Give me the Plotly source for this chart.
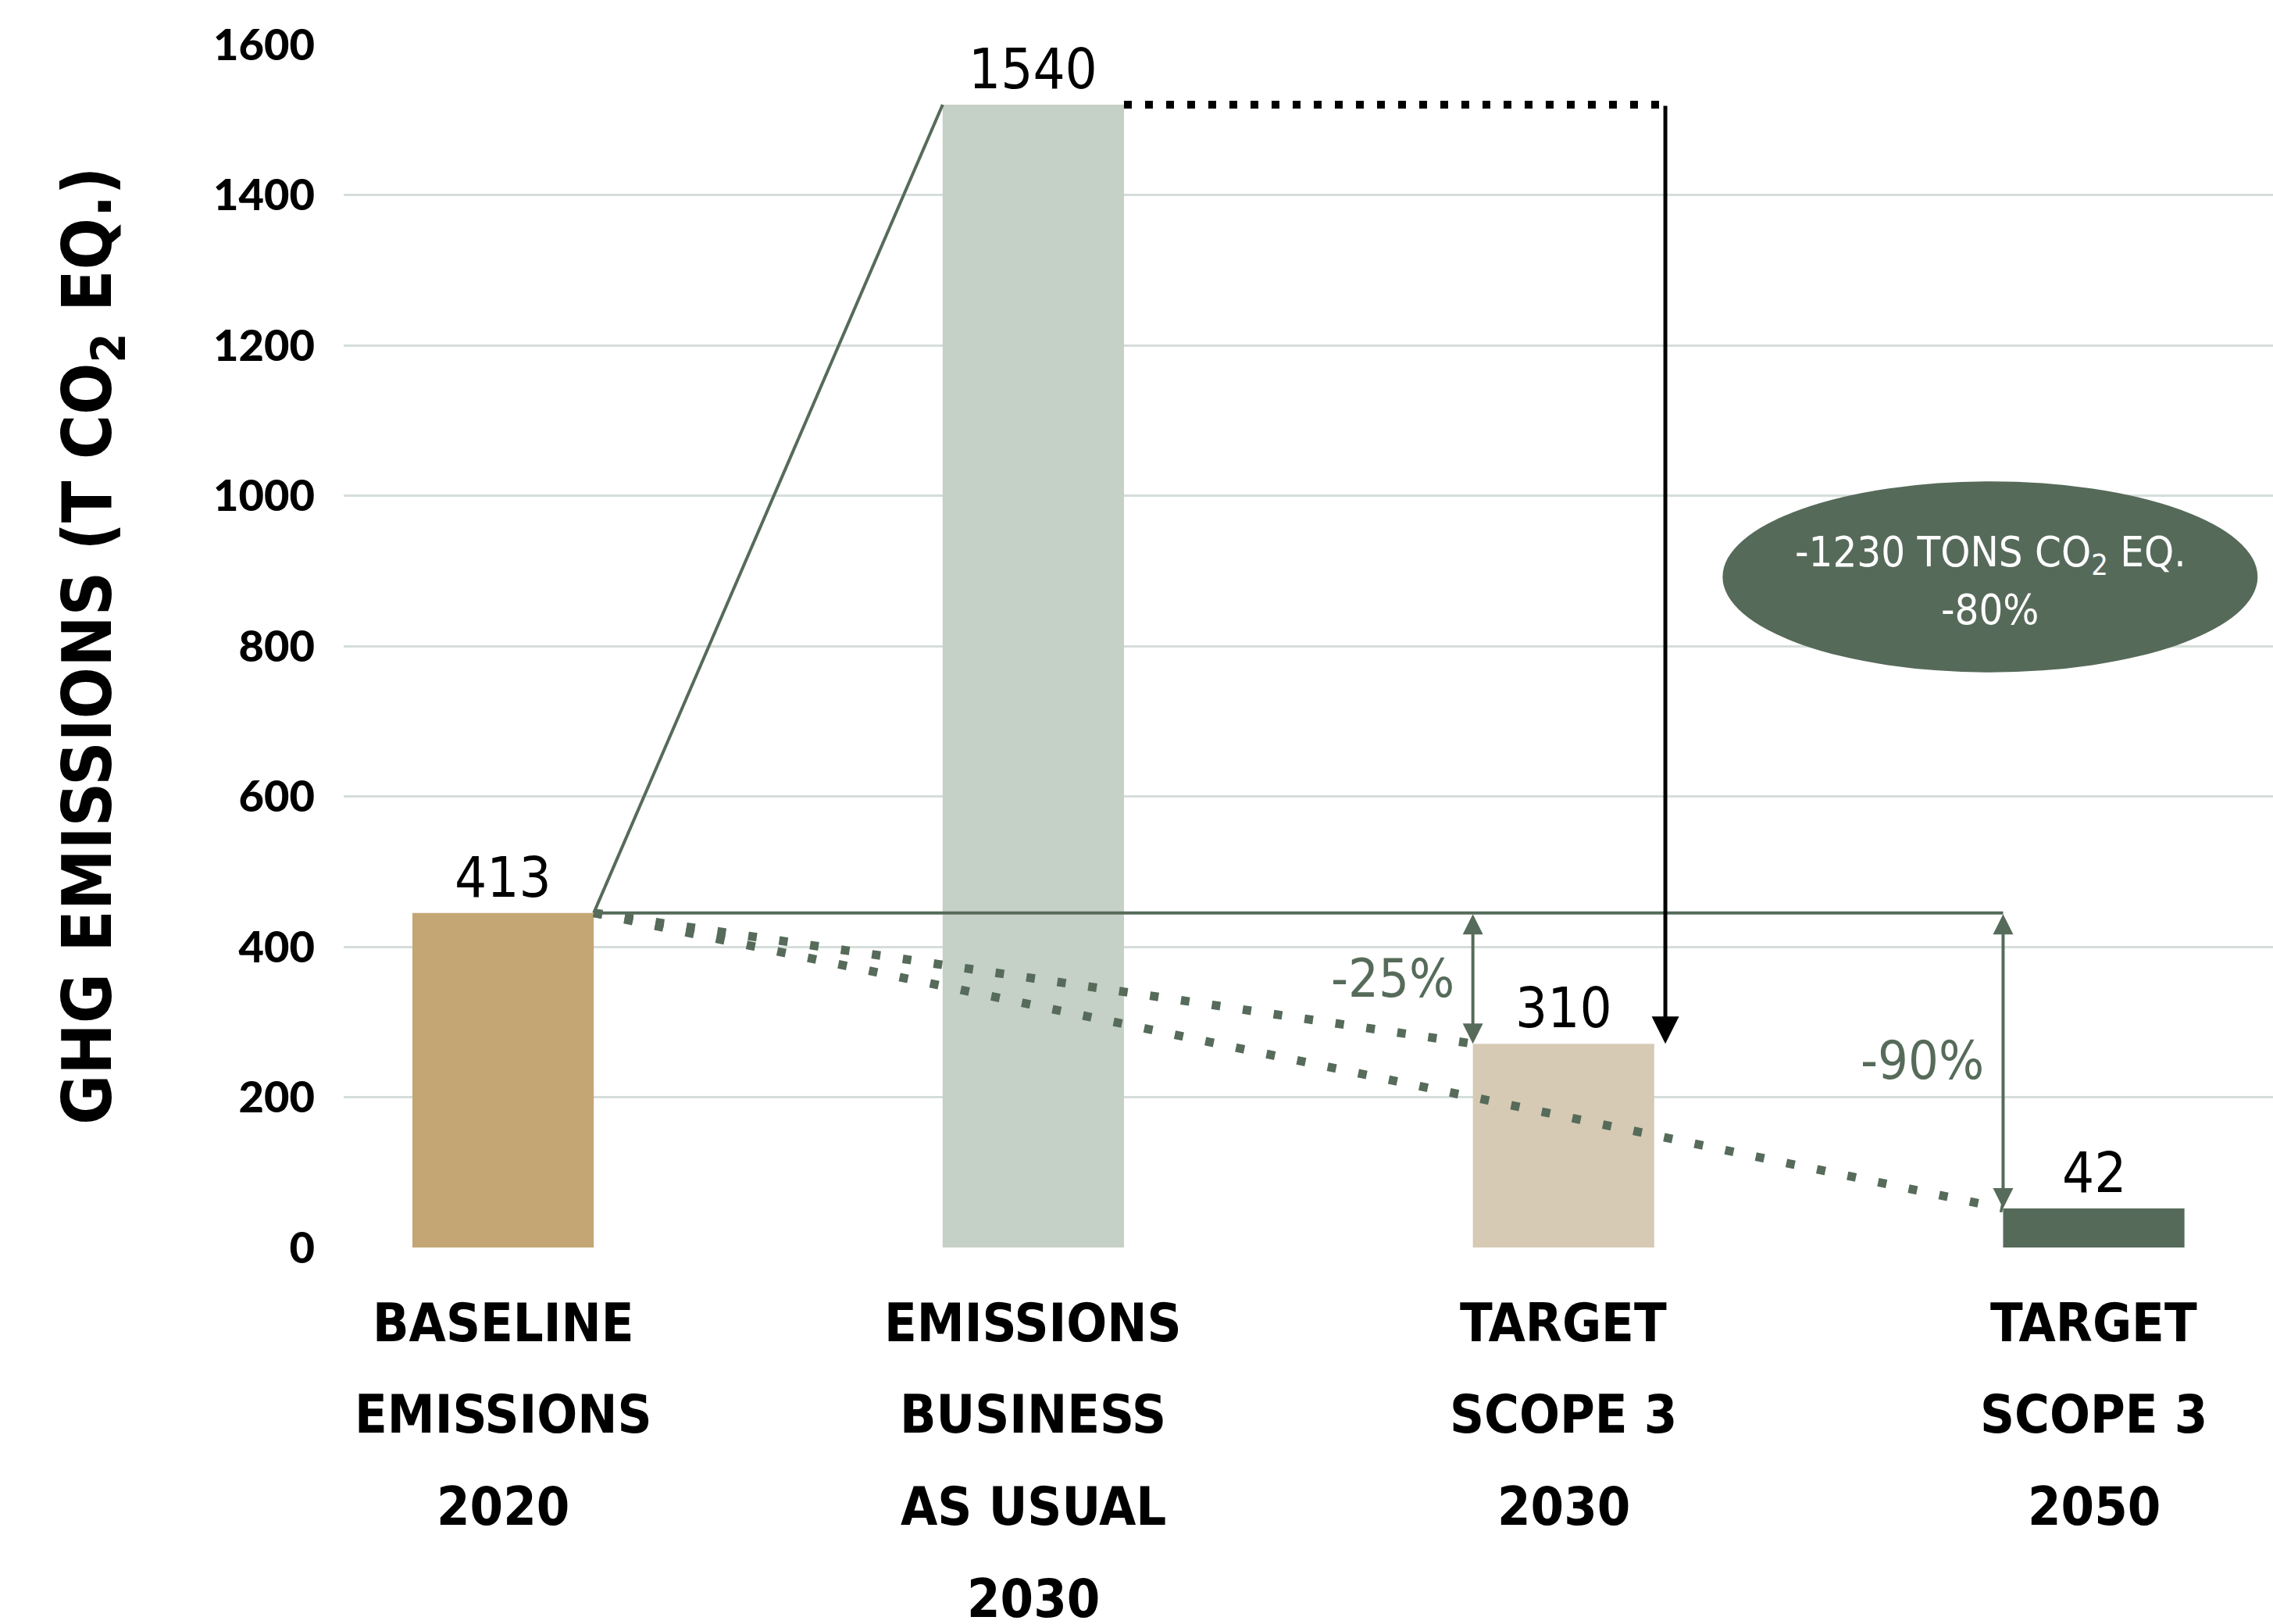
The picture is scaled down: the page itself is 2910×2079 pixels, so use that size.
import plotly.graph_objects as go

# ---------------- data ----------------
categories = ["BASELINE EMISSIONS 2020", "EMISSIONS BUSINESS AS USUAL 2030",
              "TARGET SCOPE 3 2030", "TARGET SCOPE 3 2050"]
category_lines = [["BASELINE", "EMISSIONS", "2020"],
                  ["EMISSIONS", "BUSINESS", "AS USUAL", "2030"],
                  ["TARGET", "SCOPE 3", "2030"],
                  ["TARGET", "SCOPE 3", "2050"]]
value_labels = [413, 1540, 310, 42]          # printed values
bar_heights = [445, 1520, 271, 52]            # drawn bar heights
bar_colors = ["#C4A674", "#C5D0C7", "#D6CAB4", "#566A5A"]
y_ticks = [0, 200, 400, 600, 800, 1000, 1200, 1400, 1600]
pct_labels = ["-25%", "-90%"]
bubble_lines = ["-1230 TONS CO<sub>2</sub> EQ.", "-80%"]
y_title = "GHG EMISSIONS (T CO<sub>2</sub> EQ.)"

# ---------------- style ----------------
W, H = 2910, 2079
ML, MR, MT, MB = 440, 0, 57, 482
GREEN = "#566B5A"
GRID = "#D5DEDA"
NARROW = "DejaVu Sans Condensed, DejaVu Sans, sans-serif"
BOLD = "Lato, Roboto, DejaVu Sans, sans-serif"
BW = 0.342
xs = list(range(len(categories)))
plot_h = H - MT - MB

fig = go.Figure()
fig.add_trace(go.Bar(x=xs, y=bar_heights, width=BW, marker=dict(color=bar_colors, line_width=0),
                     hoverinfo="skip", showlegend=False))

shapes = []
h0, h1, h2, h3 = bar_heights
# solid connectors
shapes.append(dict(type="line", xref="x", yref="y", x0=0 + BW / 2, y0=h0, x1=1 - BW / 2, y1=h1,
                   line=dict(color=GREEN, width=4)))
shapes.append(dict(type="line", xref="x", yref="y", x0=0 + BW / 2, y0=h0, x1=3 - BW / 2, y1=h0,
                   line=dict(color=GREEN, width=4)))
# dotted trajectories
for (xe, ye) in [(2 - BW / 2, h2), (3 - BW / 2, h3)]:
    shapes.append(dict(type="line", xref="x", yref="y", x0=0 + BW / 2, y0=h0, x1=xe, y1=ye,
                       line=dict(color=GREEN, width=11, dash="11px,29px")))
# black dotted line from BAU top
ARROW_X = 2.192
shapes.append(dict(type="line", xref="x", yref="y", x0=1 + BW / 2, y0=h1, x1=ARROW_X, y1=h1,
                   line=dict(color="black", width=10, dash="10px,17px")))
# bubble
shapes.append(dict(type="circle", xref="x", yref="y", x0=2.300, x1=3.309, y0=765, y1=1019,
                   fillcolor="#566A5A", line=dict(width=0), layer="above"))

annotations = []
# black arrow
annotations.append(dict(x=ARROW_X, y=h2, ax=ARROW_X, ay=h1, xref="x", yref="y", axref="x", ayref="y",
                        showarrow=True, arrowhead=2, arrowsize=1.4, arrowwidth=5, arrowcolor="black",
                        text="", standoff=0))
# green double arrows
for xa, yb in [(2 - BW / 2, h2), (3 - BW / 2, h3)]:
    annotations.append(dict(x=xa, y=yb, ax=xa, ay=h0, xref="x", yref="y", axref="x", ayref="y",
                            showarrow=True, arrowhead=2, arrowside="end+start", arrowsize=1.3,
                            arrowwidth=4, arrowcolor=GREEN, text="", standoff=0, startstandoff=0))
# percentage labels
for txt, xa, yb in [(pct_labels[0], 2 - BW / 2, h2), (pct_labels[1], 3 - BW / 2, h3)]:
    annotations.append(dict(x=xa, y=(h0 + yb) / 2, xref="x", yref="y", text=txt, showarrow=False,
                            xanchor="right", yanchor="middle", xshift=-22,
                            font=dict(family=NARROW, size=68, color=GREEN)))
# value labels
for i, v in enumerate(value_labels):
    annotations.append(dict(x=xs[i], y=bar_heights[i], xref="x", yref="y", text=str(v), showarrow=False,
                            xanchor="center", yanchor="bottom", yshift=2,
                            font=dict(family=NARROW, size=72, color="black", weight=500)))
# bubble text
for t, yv in zip(bubble_lines, [922, 848]):
    annotations.append(dict(x=2.805, y=yv, xref="x", yref="y", text=t, showarrow=False,
                            xanchor="center", yanchor="middle",
                            font=dict(family=NARROW, size=54, color="white")))
# category labels (one annotation per line)
line_gap = 117.7 / plot_h
first_y = -(1693 - (H - MB)) / plot_h
for i, lines in enumerate(category_lines):
    for j, ln in enumerate(lines):
        annotations.append(dict(x=xs[i], y=first_y - j * line_gap, xref="x", yref="paper", text=ln,
                                showarrow=False, xanchor="center", yanchor="middle",
                                font=dict(family=NARROW, size=68, color="black", weight="bold")))
# y axis title
annotations.append(dict(x=(117 - ML) / (W - ML - MR), y=0.5, xref="paper", yref="paper", text=y_title,
                        textangle=-90, showarrow=False, xanchor="center", yanchor="middle",
                        font=dict(family=NARROW, size=87, color="black", weight="bold")))

fig.update_layout(
    width=W, height=H, margin=dict(l=ML, r=MR, t=MT, b=MB),
    paper_bgcolor="white", plot_bgcolor="white",
    shapes=shapes, annotations=annotations, showlegend=False,
    xaxis=dict(range=[-0.3006, 3.338], showgrid=False, zeroline=False, showline=False,
               showticklabels=False, tickvals=xs, ticktext=categories, fixedrange=True),
    yaxis=dict(range=[0, 1600], tickvals=y_ticks, showgrid=True, gridcolor=GRID, gridwidth=3,
               zeroline=False, showline=False, ticklabelstandoff=36,
               tickfont=dict(family=BOLD, size=56, color="black", weight=900)),
)

fig.write_html("out.html")
